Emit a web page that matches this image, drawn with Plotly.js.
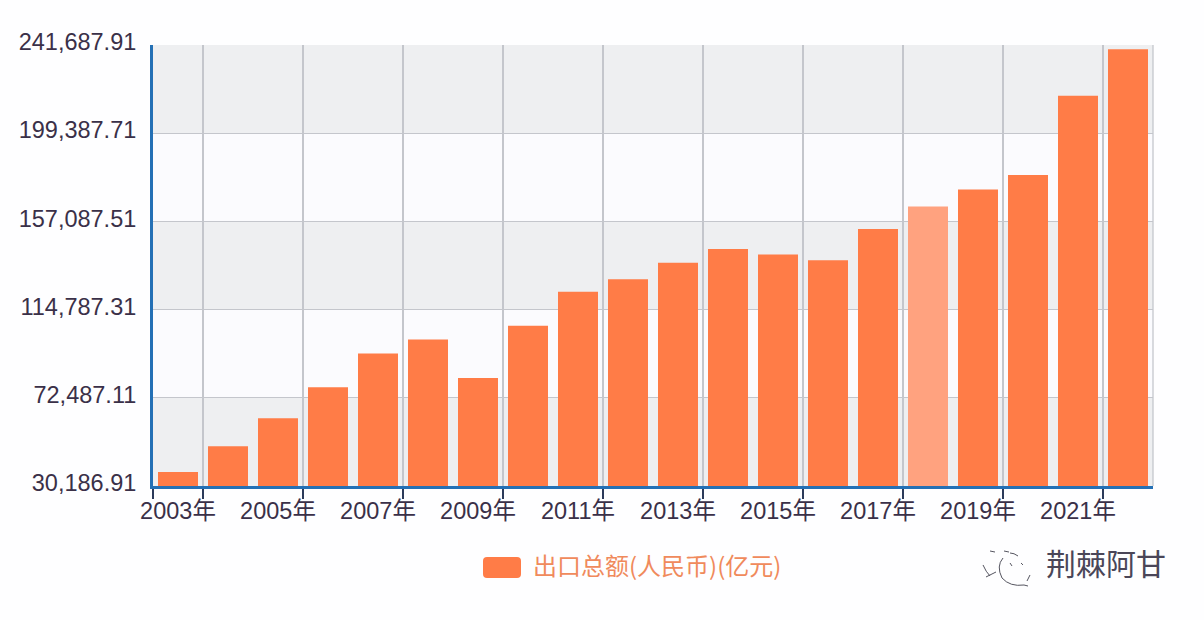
<!DOCTYPE html>
<html>
<head>
<meta charset="utf-8">
<script src="https://cdn.plot.ly/plotly-3.0.1.min.js"></script>
<style>html,body{margin:0;padding:0;background:#fefeff;}#c{width:1204px;height:620px;}</style>
</head>
<body>
<div id="c"></div>
<script>
const years = [2003,2004,2005,2006,2007,2008,2009,2010,2011,2012,2013,2014,2015,2016,2017,2018,2019,2020,2021,2022];
const exportsCny = [36900,49300,62700,77600,93700,100500,82000,107100,123300,129400,137200,143900,141200,138500,153400,164200,172400,179350,217300,239600];
const yTicks = [30186.91,72487.11,114787.31,157087.51,199387.71,241687.91];
const yTickText = ['30,186.91','72,487.11','114,787.31','157,087.51','199,387.71','241,687.91'];
const xLabelYears = [2003,2005,2007,2009,2011,2013,2015,2017,2019,2021];
const xLabelText = ['2003年','2005年','2007年','2009年','2011年','2013年','2015年','2017年','2019年','2021年'];
const xBoundaries = [2002.5,2003.5,2005.5,2007.5,2009.5,2011.5,2013.5,2015.5,2017.5,2019.5,2021.5];
const seriesName = '出口总额(人民币)(亿元)';
const highlightYear = 2018;

const sans = '"Liberation Sans", Arial, "Noto Sans CJK SC", sans-serif';
const textColor = '#3a3048';
const gridColor = '#c4c6cc';
const axisBlue = '#2470b5';
const coral = '#ff7c47';

// page pixel to paper fraction, for the decoration outside the plot area
const L = 153, T = 45, W = 1000, H = 441;
const px = v => ((v - L) / W).toFixed(4);
const py = v => ((T + H - v) / H).toFixed(4);
const P = (x, y) => px(x) + ' ' + py(y);

const shapes = [];
for (let i = 0; i < yTicks.length - 1; i++) {
  shapes.push({type:'rect', xref:'x domain', x0:0, x1:1, yref:'y', y0:yTicks[i], y1:yTicks[i+1],
    layer:'below', line:{width:0}, fillcolor: i % 2 === 0 ? '#eeeff1' : '#fbfbfe'});
}
shapes.push({type:'line', xref:'x domain', x0:1, x1:1, yref:'y domain', y0:0, y1:1, layer:'below', line:{color:gridColor, width:1.3}});
// legend swatch
shapes.push({type:'path', xref:'paper', yref:'paper',
  path:'M '+P(487,557)+' L '+P(517,557)+' Q '+P(521,557)+' '+P(521,561)+' L '+P(521,574)+' Q '+P(521,578)+' '+P(517,578)+
       ' L '+P(487,578)+' Q '+P(483,578)+' '+P(483,574)+' L '+P(483,561)+' Q '+P(483,557)+' '+P(487,557)+' Z',
  fillcolor:coral, line:{width:0}});
// watermark mark: broken face outline, eyes and leaf strokes
const mark = [
  'M '+P(1003,558)+' Q '+P(996,566)+' '+P(1002,578)+' Q '+P(1010,587)+' '+P(1024,585),
  'M '+P(1024,585)+' L '+P(1028,586),
  'M '+P(1030,575)+' L '+P(1027,581),
  'M '+P(1010,553)+' Q '+P(1014,553)+' '+P(1018,556),
  'M '+P(983,565)+' Q '+P(986,572)+' '+P(990,576),
  'M '+P(986,577)+' L '+P(996,572),
  'M '+P(990,551)+' L '+P(995,552),
  'M '+P(1004,551)+' L '+P(1009,552),
  'M '+P(1010,563)+' L '+P(1012,566),
  'M '+P(1021,563)+' L '+P(1023,565)
];
mark.forEach(path => shapes.push({type:'path', xref:'paper', yref:'paper', path:path, line:{color:'#555560', width:1}}));

Plotly.newPlot('c', [{
  type:'bar', x:years, y:exportsCny, name:seriesName, showlegend:false,
  marker:{color:years.map(y => y === highlightYear ? '#ffa27f' : coral), line:{width:0}}
}], {
  width:1204, height:620,
  margin:{l:153, r:51, t:45, b:134, pad:0},
  paper_bgcolor:'#fefeff', plot_bgcolor:'#fefeff',
  bargap:0.2,
  font:{family:sans, color:textColor, size:23},
  xaxis:{
    type:'linear', range:[2002.5,2022.5], tickmode:'array', tickvals:xLabelYears, ticktext:xLabelText,
    ticks:'', showgrid:false, zeroline:false, showline:true, linecolor:axisBlue, linewidth:3,
    tickfont:{family:sans, color:textColor, size:23.5}, ticklabelstandoff:2,
    minor:{tickmode:'array', tickvals:xBoundaries, ticks:'outside', ticklen:10, tickwidth:2, tickcolor:'#2b3a5a',
      showgrid:true, gridcolor:gridColor, gridwidth:1.3}
  },
  yaxis:{
    range:[yTicks[0], yTicks[yTicks.length-1]], tickmode:'array', tickvals:yTicks, ticktext:yTickText,
    ticks:'', showgrid:true, gridcolor:gridColor, gridwidth:1.3, zeroline:false,
    showline:true, linecolor:axisBlue, linewidth:3,
    tickfont:{family:sans, color:textColor, size:23.5}, ticklabelstandoff:9, ticklabelshift:-3
  },
  shapes:shapes,
  annotations:[
    {xref:'paper', yref:'paper', x:+px(531), y:+py(564), xanchor:'left', yanchor:'middle', showarrow:false,
     text:seriesName, font:{family:'"Noto Sans CJK SC", sans-serif', size:24, color:'#f08a5c'}},
    {xref:'paper', yref:'paper', x:+px(1044), y:+py(562), xanchor:'left', yanchor:'middle', showarrow:false,
     text:'荆棘阿甘', font:{family:'"Noto Sans CJK SC", sans-serif', size:30, color:'#4a4658'}}
  ]
}, {displayModeBar:false, staticPlot:true});
</script>
</body>
</html>
